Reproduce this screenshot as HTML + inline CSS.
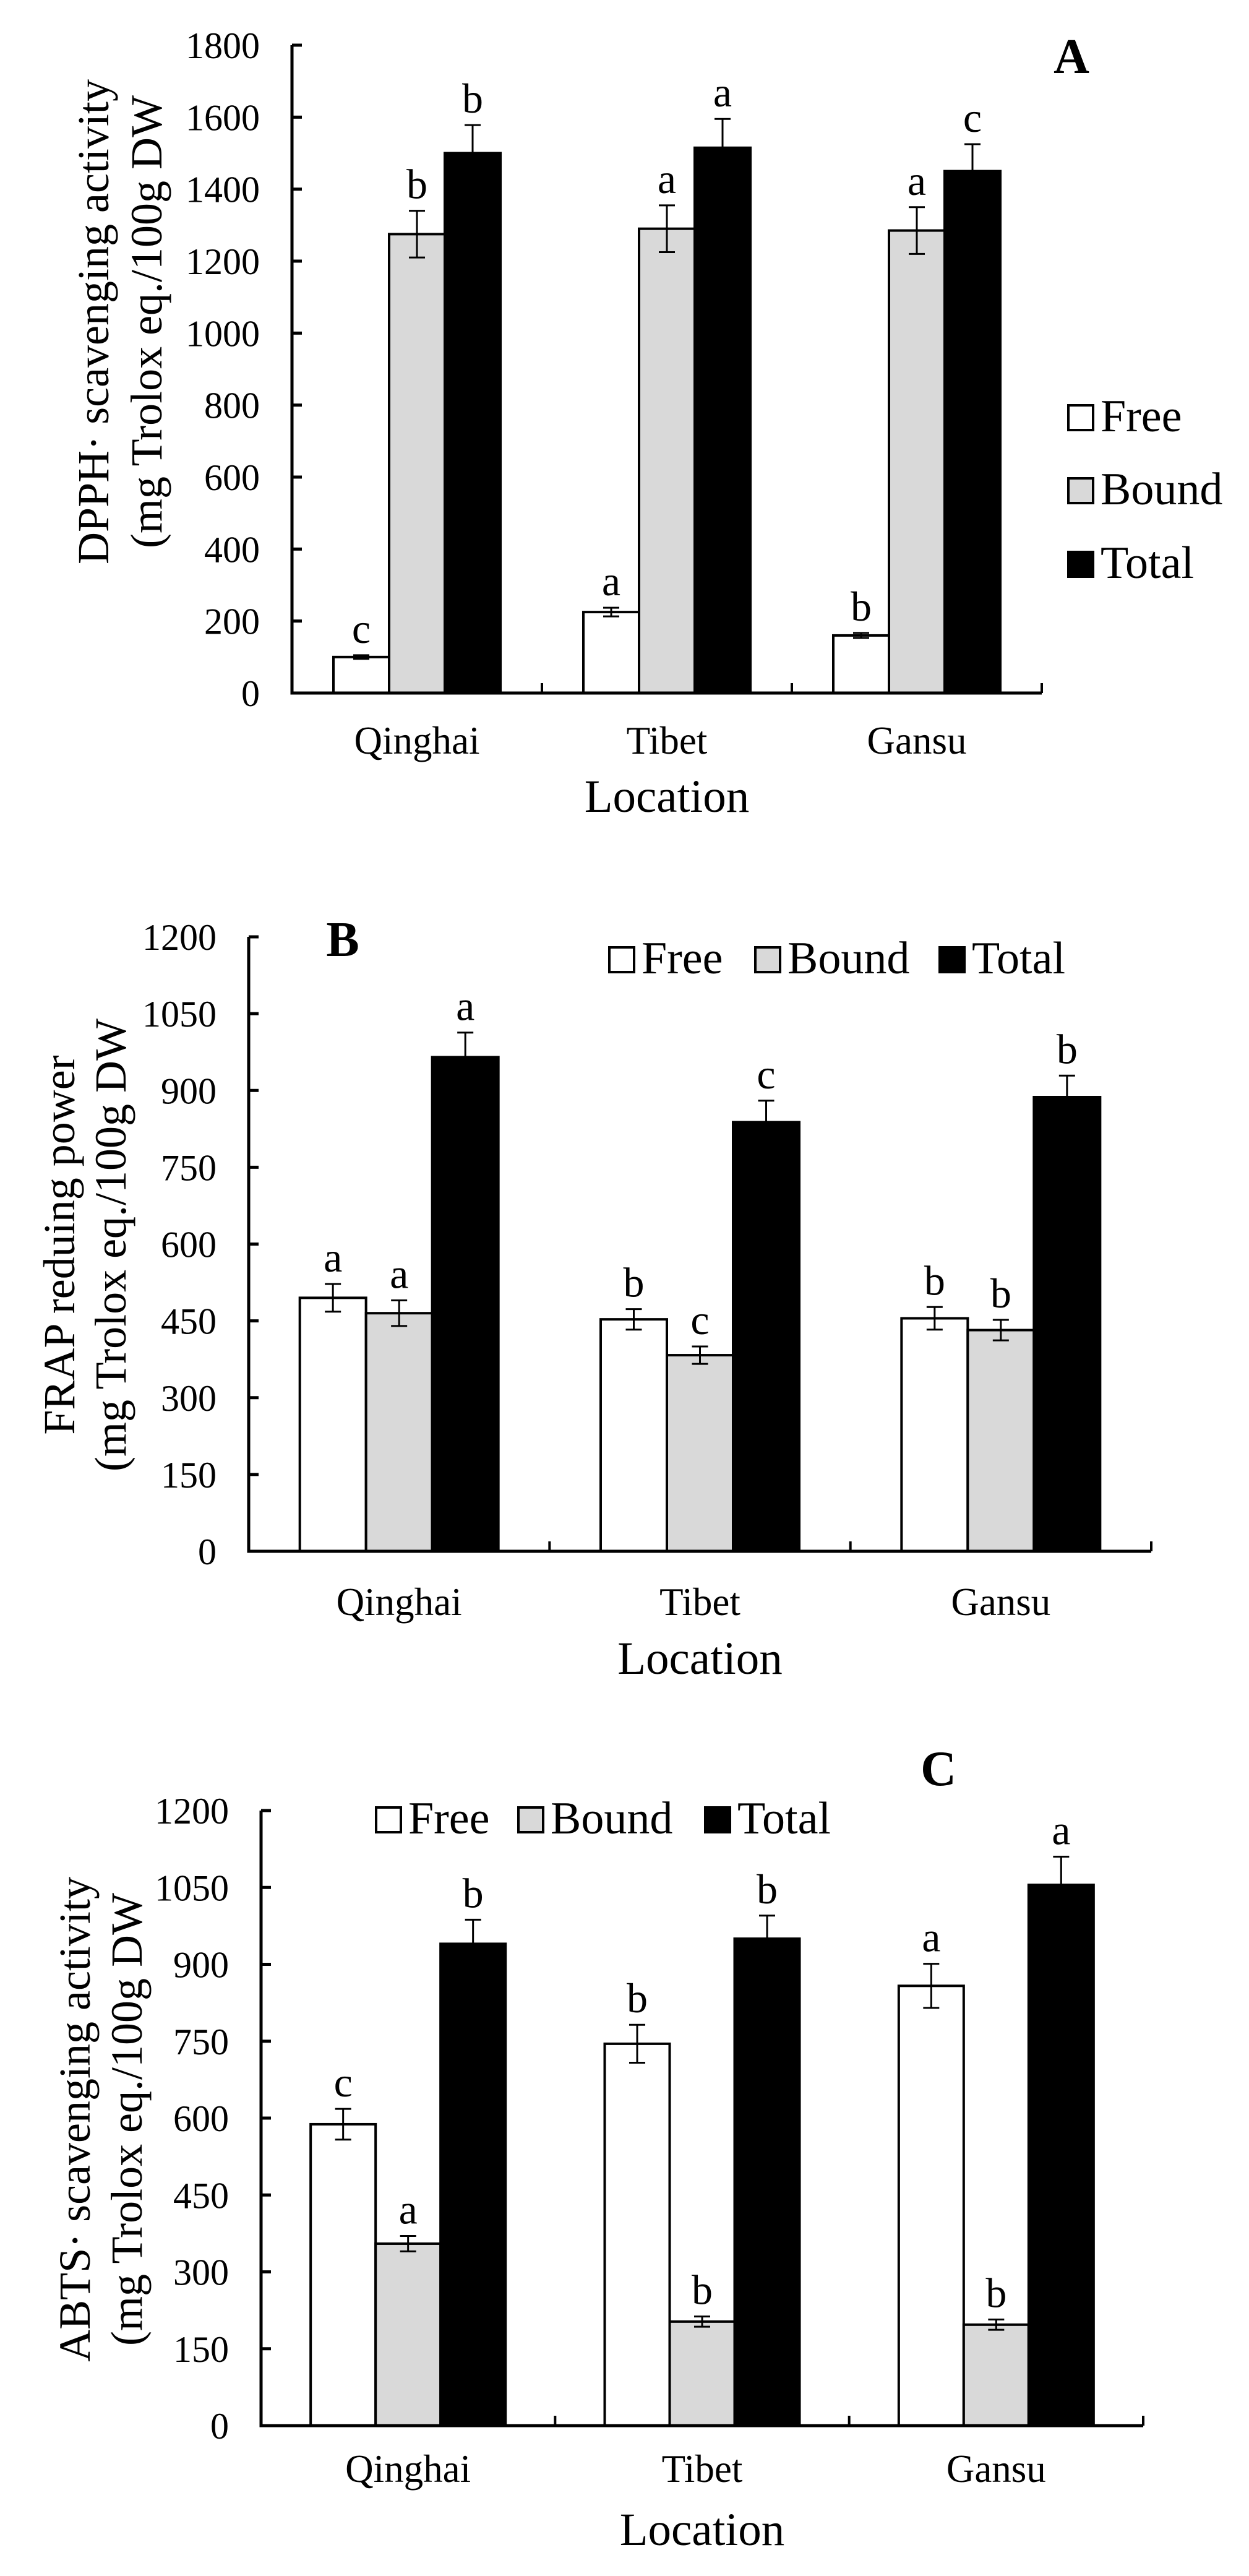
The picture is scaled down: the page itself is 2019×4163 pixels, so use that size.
<!DOCTYPE html>
<html><head><meta charset="utf-8"><style>
html,body{margin:0;padding:0;background:#fff;}
svg{display:block;font-family:"Liberation Serif",serif;}
</style></head><body>
<svg id="fig" width="2019" height="4163" viewBox="0 0 2019 4163" xmlns="http://www.w3.org/2000/svg"></svg>
<script>
const categories = ["Qinghai","Tibet","Gansu"];
const seriesNames = ["Free","Bound","Total"];
const dppFree = [100,225,160], dppBound = [1275,1290,1285], dppTotal = [1500,1515,1450];
const dppFreeErr = [5,12,7], dppBoundErr = [65,65,65], dppTotalErr = [78,80,75];
const dppLetters = [["c","b","b"],["a","a","a"],["b","a","c"]];
const dppTicks = [0,200,400,600,800,1000,1200,1400,1600,1800];
const frapFree = [495,453,455], frapBound = [465,383,432], frapTotal = [965,838,887];
const frapFreeErr = [27,20,22], frapBoundErr = [25,17,20], frapTotalErr = [48,42,42];
const frapLetters = [["a","a","a"],["b","c","c"],["b","b","b"]];
const frapTicks = [0,150,300,450,600,750,900,1050,1200];
const abtsFree = [588,745,858], abtsBound = [355,203,197], abtsTotal = [940,950,1055];
const abtsFreeErr = [30,37,43], abtsBoundErr = [15,10,10], abtsTotalErr = [47,45,55];
const abtsLetters = [["c","a","b"],["b","b","b"],["a","b","a"]];
const abtsTicks = [0,150,300,450,600,750,900,1050,1200];

const NS="http://www.w3.org/2000/svg";
const svg=document.getElementById('fig');
function el(tag,attrs,parent,text){const e=document.createElementNS(NS,tag);for(const k in attrs)e.setAttribute(k,attrs[k]);if(text!==undefined)e.textContent=text;(parent||svg).appendChild(e);return e;}
const fills=["#ffffff","#d9d9d9","#000000"];

function chart(cfg){
  const g=el('g',{});
  
  
  const x0=cfg.x0,x1=cfg.x1,y0=cfg.y0,yTop=cfg.yTop,max=cfg.ticks[cfg.ticks.length-1];
  const yS=v=>y0-(v/max)*(y0-yTop);
  const cw=(x1-x0)/categories.length;
  const vals=[cfg.free,cfg.bound,cfg.total], errs=[cfg.freeErr,cfg.boundErr,cfg.totalErr];
  // bars
  categories.forEach((c,i)=>{
    const cx=x0+cw*(i+0.5);
    for(let s=0;s<3;s++){
      const bx=cx+(s-1.5)*cfg.bw;
      const v=vals[s][i],e=errs[s][i];
      const r=el('rect',{x:bx,y:yS(v),width:cfg.bw,height:y0-yS(v),fill:fills[s],stroke:'#000','stroke-width':4},g);
      
      
      const mx=bx+cfg.bw/2;
      const eb=el('path',{d:`M${mx},${yS(v-e)}V${yS(v+e)}M${mx-13},${yS(v+e)}H${mx+13}M${mx-13},${yS(v-e)}H${mx+13}`,stroke:'#000','stroke-width':3,fill:'none'},g);
      
      
      const t=el('text',{x:mx,y:yS(v+e)-20,'font-size':68,'text-anchor':'middle'},g,cfg.letters[i][s]);
      
      
    }
    const cl=el('text',{x:cx,y:cfg.catY,'font-size':63,'text-anchor':'middle'},g,c);
    
    
  });
  // axes
  const ax=el('path',{d:`M${x0},${yTop}V${y0}H${x1}`,stroke:'#000','stroke-width':5,fill:'none'},g);
  
  
  cfg.ticks.forEach(v=>{
    el('line',{x1:x0,x2:x0+16,y1:yS(v),y2:yS(v),stroke:'#000','stroke-width':5},g);
    const tl=el('text',{x:x0-52,y:yS(v)+21,'font-size':60,'text-anchor':'end'},g,String(v));
    
    
  });
  for(let i=1;i<=categories.length;i++){
    el('line',{x1:x0+cw*i,x2:x0+cw*i,y1:y0,y2:y0-16,stroke:'#000','stroke-width':4},g);
  }
  const xt=el('text',{x:(x0+x1)/2,y:cfg.locY,'font-size':75,'text-anchor':'middle'},g,'Location');
  
  
  cfg.ytitle.forEach((line,k)=>{
    const yt=el('text',{x:0,y:0,'font-size':72,'text-anchor':'middle',transform:`translate(${cfg.ytx[k]},${cfg.ytCy}) rotate(-90)`},g,line);
    
    
  });
  const pl=el('text',{x:cfg.panel[0],y:cfg.panel[1],'font-size':80,'font-weight':'bold','text-anchor':'middle'},g,cfg.panel[2]);
  
  
  cfg.legend.forEach((p,s)=>{
    const b=el('rect',{x:p[0],y:p[1]-42,width:40,height:40,fill:fills[s],stroke:'#000','stroke-width':4},g);
    
    
    const lt=el('text',{x:p[0]+52,y:p[1],'font-size':74},g,seriesNames[s]);
    
    
  });
}

chart({name:'chart-dpph',x0:472,x1:1684,y0:1120,yTop:73,bw:90,ticks:dppTicks,
  free:dppFree,bound:dppBound,total:dppTotal,freeErr:dppFreeErr,boundErr:dppBoundErr,totalErr:dppTotalErr,
  letters:dppLetters,catY:1218,locY:1312,ytitle:["DPPH· scavenging activity","(mg Trolox eq./100g DW"],
  ytx:[175,261],ytCy:520,panel:[1732,118,'A'],legend:[[1727,697],[1727,815],[1727,934]]});
chart({name:'chart-frap',x0:402,x1:1861,y0:2507,yTop:1514,bw:107,ticks:frapTicks,
  free:frapFree,bound:frapBound,total:frapTotal,freeErr:frapFreeErr,boundErr:frapBoundErr,totalErr:frapTotalErr,
  letters:frapLetters,catY:2610,locY:2705,ytitle:["FRAP reduing power","(mg Trolox eq./100g DW"],
  ytx:[120,203],ytCy:2012,panel:[554,1545,'B'],legend:[[985,1573],[1221,1573],[1519,1573]]});
chart({name:'chart-abts',x0:422,x1:1848,y0:3920,yTop:2926,bw:105,ticks:abtsTicks,
  free:abtsFree,bound:abtsBound,total:abtsTotal,freeErr:abtsFreeErr,boundErr:abtsBoundErr,totalErr:abtsTotalErr,
  letters:abtsLetters,catY:4011,locY:4113,ytitle:["ABTS· scavenging activity","(mg Trolox eq./100g DW"],
  ytx:[145,229],ytCy:3425,panel:[1517,2885,'C'],legend:[[608,2963],[838,2963],[1140,2963]]});
</script>
</body></html>
